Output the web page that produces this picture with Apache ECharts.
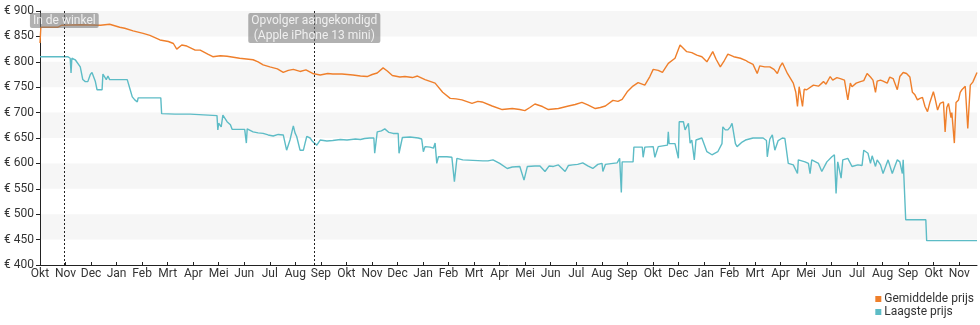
<!DOCTYPE html>
<html>
<head>
<meta charset="utf-8">
<script src="https://cdn.jsdelivr.net/npm/echarts@6/dist/echarts.min.js"></script>
<style>
  html, body { margin: 0; padding: 0; background: #fff; }
  #chart { width: 980px; height: 325px; }
</style>
</head>
<body>
<div id="chart"></div>
<script>
// Days since the start of the tracked period; one label per month.
const MONTH = 30.44;
const monthLabels = ['Okt','Nov','Dec','Jan','Feb','Mrt','Apr','Mei','Jun','Jul','Aug','Sep',
  'Okt','Nov','Dec','Jan','Feb','Mrt','Apr','Mei','Jun','Jul','Aug','Sep',
  'Okt','Dec','Jan','Feb','Mrt','Apr','Mei','Jun','Jul','Aug','Sep','Okt','Nov'];
const lastDay = 1117;

const priceTicks = [400, 450, 500, 550, 600, 650, 700, 750, 800, 850, 900];

// Average price (Gemiddelde prijs)
const avgDays = [0,1,21,26,48,72,83,95,101,111,123,131,143,153,159,163,169,175,185,191,200,206,215,223,238,254,260,266,274,283,290,296,302,310,317,325,334,343,349,360,373,382,390,396,402,409,414,420,429,435,444,450,459,471,480,489,496,503,515,522,527,539,551,557,563,572,578,584,590,599,606,618,630,638,646,653,662,668,674,683,689,694,700,706,713,721,727,731,737,742,749,757,763,765,771,777,783,789,795,802,806,811,816,820,827,835,841,844,850,855,858,864,870,875,879,882,885,891,898,901,903,905,907,909,911,914,922,928,934,937,942,945,950,954,959,963,966,968,973,978,982,986,990,993,996,998,1002,1005,1010,1013,1017,1022,1025,1029,1033,1035,1037,1040,1043,1046,1049,1052,1055,1058,1061,1065,1067,1070,1073,1077,1079,1081,1083,1086,1087,1090,1092,1095,1097,1099,1103,1105,1106,1109,1112,1117];
const avgPrice = [837,868,868,872,873,872,874,868,866,861,856,852,843,840,836,825,833,831,823,823,815,810,812,811,807,804,800,794,790,786,779,783,785,781,784,777,774,777,776,776,774,772,771,775,778,788,782,773,770,771,769,772,765,758,740,728,727,725,718,722,721,713,706,707,708,706,704,710,717,712,706,708,713,716,720,715,708,710,713,724,722,726,741,751,759,754,771,785,783,779,797,807,833,833,820,818,813,810,800,820,805,790,803,815,810,807,803,800,795,777,792,790,790,785,777,790,798,777,758,740,712,751,748,712,746,745,754,752,761,756,771,764,769,767,764,725,758,751,758,761,763,777,770,764,740,762,764,762,758,770,767,745,771,779,777,774,770,740,735,725,728,730,712,702,721,741,728,705,718,721,662,710,718,690,700,640,720,725,740,745,752,751,669,754,760,779];

// Lowest price (Laagste prijs)
const lowDays = [0,33,35,36,37,38,42,48,51,54,57,60,62,64,66,68,74,75,79,81,83,104,107,110,113,116,117,144,145,161,179,181,211,212,213,216,218,223,227,229,244,246,247,254,260,266,272,278,284,290,294,298,302,304,306,310,314,316,318,322,325,330,334,342,349,358,366,376,382,387,393,398,399,402,407,411,416,421,427,428,432,441,451,455,457,459,465,469,471,472,473,475,485,491,494,497,504,516,528,534,540,548,557,563,572,577,581,590,596,602,607,612,618,626,630,635,641,647,653,659,665,670,671,674,683,688,691,693,694,707,708,718,719,721,731,733,737,748,749,750,757,759,761,762,767,769,773,774,775,777,780,782,789,795,801,808,813,814,817,820,823,825,829,831,837,841,850,862,866,867,870,873,876,880,885,888,892,898,903,904,912,916,918,920,928,932,938,944,947,949,951,955,957,963,968,975,980,982,987,990,992,996,998,1002,1005,1011,1016,1019,1022,1025,1028,1029,1031,1032,1056,1057,1117];
const lowPrice = [810,810,807,807,778,807,804,790,765,761,761,775,779,770,761,745,745,776,765,772,765,765,748,731,725,721,729,729,698,697,697,694,694,666,679,672,695,682,676,667,667,640,668,662,660,659,656,654,657,656,626,646,674,660,653,626,626,640,653,650,643,636,646,644,645,647,646,648,647,649,650,650,620,662,664,668,661,659,659,620,651,652,650,648,623,633,632,630,640,640,600,613,613,612,564,610,607,606,605,605,607,600,590,593,594,567,594,595,595,584,595,594,597,584,596,597,598,601,595,590,598,600,584,598,600,601,610,543,603,603,632,632,612,632,633,612,633,636,662,639,639,636,610,682,682,666,679,680,640,646,607,646,650,623,617,623,639,672,666,666,672,679,639,633,642,646,650,650,645,613,648,656,626,645,650,649,600,597,580,607,603,600,580,607,600,584,603,613,617,541,603,571,607,610,594,597,596,626,620,600,615,594,607,597,580,607,580,594,607,603,580,607,607,489,489,448,448];

// Event markers
const eventDays = [29, 327];
const eventTexts = ['In de winkel', 'Opvolger aangekondigd\n(Apple iPhone 13 mini)'];

const zip = (xs, ys) => xs.map((x, i) => [x, ys[i]]);

const ORANGE = '#ef7f2b';
const TEAL = '#5dbcc6';
const FONT = 'Roboto';

const chart = echarts.init(document.getElementById('chart'), null, { renderer: 'canvas' });

chart.setOption({
  animation: false,
  textStyle: { fontFamily: FONT },
  grid: { left: 40, right: 3, top: 11, bottom: 60, containLabel: false },
  legend: {
    data: ['Gemiddelde prijs', 'Laagste prijs'],
    orient: 'vertical',
    right: 1,
    top: 288,
    align: 'left',
    itemWidth: 6,
    itemHeight: 6,
    itemGap: 1,
    icon: 'rect',
    textStyle: { fontFamily: FONT, fontSize: 12, color: '#333', padding: [0, 0, 0, -2] },
    selectedMode: false
  },
  xAxis: {
    type: 'value',
    min: 0,
    max: lastDay,
    splitLine: { show: false },
    axisLine: { show: true, lineStyle: { color: '#222', width: 1 } },
    axisTick: {
      show: true, inside: true, length: 3,
      lineStyle: { color: '#222' },
      customValues: monthLabels.map((_, i) => i * MONTH)
    },
    axisLabel: {
      color: '#333', fontSize: 12, fontFamily: FONT, margin: 3,
      customValues: monthLabels.map((_, i) => i * MONTH),
      formatter: v => monthLabels[Math.round(v / MONTH)] || ''
    }
  },
  yAxis: {
    type: 'value',
    min: priceTicks[0],
    max: priceTicks[priceTicks.length - 1],
    interval: 50,
    splitLine: { show: false },
    splitArea: { show: true, areaStyle: { color: ['rgba(255,255,255,0)', '#f6f6f6'] } },
    axisLine: { show: true, lineStyle: { color: '#222', width: 1 } },
    axisTick: { show: true, length: 4, lineStyle: { color: '#222' } },
    axisLabel: {
      color: '#333', fontSize: 12, fontFamily: FONT, margin: 6,
      formatter: v => '\u20ac ' + v
    }
  },
  series: [
    {
      name: 'Gemiddelde prijs',
      type: 'line',
      data: zip(avgDays, avgPrice),
      showSymbol: false,
      symbol: 'none',
      color: ORANGE,
      lineStyle: { color: ORANGE, width: 1.4 },
      z: 3
    },
    {
      name: 'Laagste prijs',
      type: 'line',
      data: zip(lowDays, lowPrice),
      showSymbol: false,
      symbol: 'none',
      color: TEAL,
      lineStyle: { color: TEAL, width: 1.4 },
      z: 3
    },
    {
      name: 'events',
      type: 'scatter',
      data: eventDays.map((d, i) => ({ value: [d, 900], label: { formatter: eventTexts[i] } })),
      symbolSize: 0,
      z: 5,
      silent: true,
      label: {
        show: true,
        position: 'bottom',
        distance: 2,
        color: '#fff',
        fontFamily: FONT,
        fontSize: 12,
        lineHeight: 15,
        align: 'center',
        backgroundColor: 'rgba(120,120,120,0.72)',
        borderRadius: 2,
        padding: [0, 3, 0, 3]
      },
      markLine: {
        silent: true,
        symbol: 'none',
        label: { show: false },
        lineStyle: { color: '#222', type: [2, 2], width: 1 },
        data: eventDays.map(d => ({ xAxis: d }))
      }
    }
  ]
});
</script>
</body>
</html>
